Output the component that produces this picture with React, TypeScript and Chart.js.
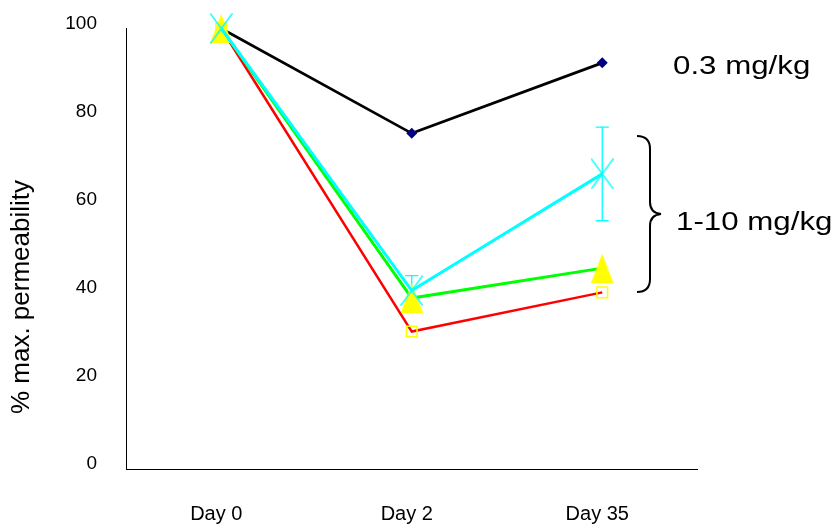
import React, { useEffect, useRef } from "react";
import { Chart, registerables } from "chart.js";

Chart.register(...registerables);

// ---- data ----
const categories = ["Day 0", "Day 2", "Day 35"];
const series03 = [100, 76.2, 92.2]; // 0.3 mg/kg
const seriesCyan = [100, 40.5, 67];
const seriesCyanErr = [0, 3.4, 10.6];
const seriesGreen = [100, 38.8, 45.6];
const seriesRed = [100, 31.2, 40.1];
const yTicks = [0, 20, 40, 60, 80, 100];
const yTitle = "% max. permeability";
const label03 = "0.3 mg/kg";
const label110 = "1-10 mg/kg";

const FONT = '"Liberation Sans", Arial, sans-serif';

function makeTriangle(): HTMLCanvasElement {
  const c = document.createElement("canvas");
  c.width = 22;
  c.height = 29;
  const ctx = c.getContext("2d")!;
  ctx.fillStyle = "#FFFF00";
  ctx.beginPath();
  ctx.moveTo(11, 0);
  ctx.lineTo(22, 29);
  ctx.lineTo(0, 29);
  ctx.closePath();
  ctx.fill();
  return c;
}

function makeCross(): HTMLCanvasElement {
  const c = document.createElement("canvas");
  c.width = 23;
  c.height = 31;
  const ctx = c.getContext("2d")!;
  ctx.strokeStyle = "#00FFFF";
  ctx.lineWidth = 1.3;
  ctx.beginPath();
  ctx.moveTo(0.5, 0.5);
  ctx.lineTo(22.5, 30.5);
  ctx.moveTo(22.5, 0.5);
  ctx.lineTo(0.5, 30.5);
  ctx.stroke();
  return c;
}

const errorBarPlugin = {
  id: "errorBars",
  beforeDatasetsDraw(chart: any) {
    const ctx = chart.ctx;
    const y = chart.scales.y;
    const meta = chart.getDatasetMeta(0);
    ctx.save();
    ctx.strokeStyle = "#00FFFF";
    ctx.lineWidth = 1.3;
    meta.data.forEach((pt: any, i: number) => {
      const e = seriesCyanErr[i];
      if (!e) return;
      const top = y.getPixelForValue(seriesCyan[i] + e);
      const bot = y.getPixelForValue(seriesCyan[i] - e);
      ctx.beginPath();
      ctx.moveTo(pt.x, top);
      ctx.lineTo(pt.x, bot);
      ctx.moveTo(pt.x - 6.5, top);
      ctx.lineTo(pt.x + 6.5, top);
      ctx.moveTo(pt.x - 6.5, bot);
      ctx.lineTo(pt.x + 6.5, bot);
      ctx.stroke();
    });
    ctx.restore();
  },
};

const annotationPlugin = {
  id: "annotations",
  afterDraw(chart: any) {
    const ctx = chart.ctx;
    ctx.save();
    // y axis title
    ctx.fillStyle = "#000";
    ctx.font = `26px ${FONT}`;
    ctx.translate(22, 297);
    ctx.rotate(-Math.PI / 2);
    ctx.textAlign = "center";
    ctx.textBaseline = "middle";
    ctx.fillText(yTitle, 0, 0);
    ctx.restore();

    // dose labels
    ctx.save();
    ctx.fillStyle = "#000";
    ctx.font = `26.5px ${FONT}`;
    ctx.textAlign = "left";
    ctx.textBaseline = "alphabetic";
    ctx.save();
    ctx.translate(673, 74);
    ctx.scale(1.18, 1);
    ctx.fillText(label03, 0, 0);
    ctx.restore();
    ctx.save();
    ctx.translate(676, 230);
    ctx.scale(1.18, 1);
    ctx.fillText(label110, 0, 0);
    ctx.restore();
    ctx.restore();

    // brace
    ctx.save();
    ctx.strokeStyle = "#000";
    ctx.lineWidth = 2;
    ctx.beginPath();
    ctx.moveTo(637, 136);
    ctx.quadraticCurveTo(650, 136, 650, 149);
    ctx.lineTo(650, 202);
    ctx.quadraticCurveTo(650, 213, 661, 214);
    ctx.quadraticCurveTo(650, 215, 650, 226);
    ctx.lineTo(650, 279);
    ctx.quadraticCurveTo(650, 292, 637, 292);
    ctx.stroke();
    ctx.restore();
  },
};

export default function App() {
  const ref = useRef<HTMLCanvasElement | null>(null);

  useEffect(() => {
    if (!ref.current) return;
    const tri = makeTriangle();
    const cross = makeCross();
    const chart = new Chart(ref.current, {
      type: "line",
      data: {
        labels: categories,
        datasets: [
          {
            label: "cyan",
            data: seriesCyan,
            borderColor: "#00FFFF",
            borderWidth: 3,
            pointStyle: cross as any,
            pointRadius: 12,
            tension: 0,
            clip: false as any,
          },
          {
            label: "green",
            data: seriesGreen,
            borderColor: "#00FF00",
            borderWidth: 3,
            pointStyle: tri as any,
            pointRadius: 12,
            tension: 0,
            clip: false as any,
          },
          {
            label: "red",
            data: seriesRed,
            borderColor: "#FF0000",
            borderWidth: 2.5,
            pointStyle: "rect",
            pointRadius: 7.5,
            pointBorderColor: "#FFFF00",
            pointBackgroundColor: "rgba(0,0,0,0)",
            pointBorderWidth: 1.5,
            tension: 0,
            clip: false as any,
          },
          {
            label: "0.3 mg/kg",
            data: series03,
            borderColor: "#000000",
            borderWidth: 2.75,
            pointStyle: "rectRot",
            pointRadius: 5.5,
            pointBorderColor: "#000080",
            pointBackgroundColor: "#000080",
            pointBorderWidth: 0,
            tension: 0,
            clip: false as any,
          },
        ],
      },
      options: {
        responsive: false,
        animation: false,
        layout: { padding: { top: 28.5, right: 140.5, left: 0, bottom: 0 } },
        plugins: {
          legend: { display: false },
          tooltip: { enabled: false },
        },
        scales: {
          x: {
            type: "category",
            offset: true,
            grid: { display: false, drawTicks: false },
            border: { display: true, color: "#000", width: 1 },
            ticks: {
              font: { family: FONT, size: 20 },
              color: "#000",
              padding: 33,
              labelOffset: -5,
              maxRotation: 0,
              autoSkip: false,
            },
            afterFit: (s: any) => {
              s.height = 58;
            },
          },
          y: {
            min: 0,
            max: 100,
            grid: { display: false, drawTicks: false },
            border: { display: true, color: "#000", width: 1 },
            ticks: {
              font: { family: FONT, size: 19 },
              color: "#000",
              padding: 29,
              labelOffset: -5,
            },
            afterBuildTicks: (s: any) => {
              s.ticks = yTicks.map((v) => ({ value: v }));
            },
            afterFit: (s: any) => {
              s.width = 126;
              s.paddingTop = 0;
              s.paddingBottom = 0;
            },
          },
        },
      } as any,
      plugins: [errorBarPlugin, annotationPlugin],
    });
    return () => chart.destroy();
  }, []);

  return (
    <div style={{ position: "absolute", left: 0, top: 0, width: 838, height: 527, background: "#fff" }}>
      <canvas ref={ref} width={838} height={527} style={{ display: "block" }} />
    </div>
  );
}
